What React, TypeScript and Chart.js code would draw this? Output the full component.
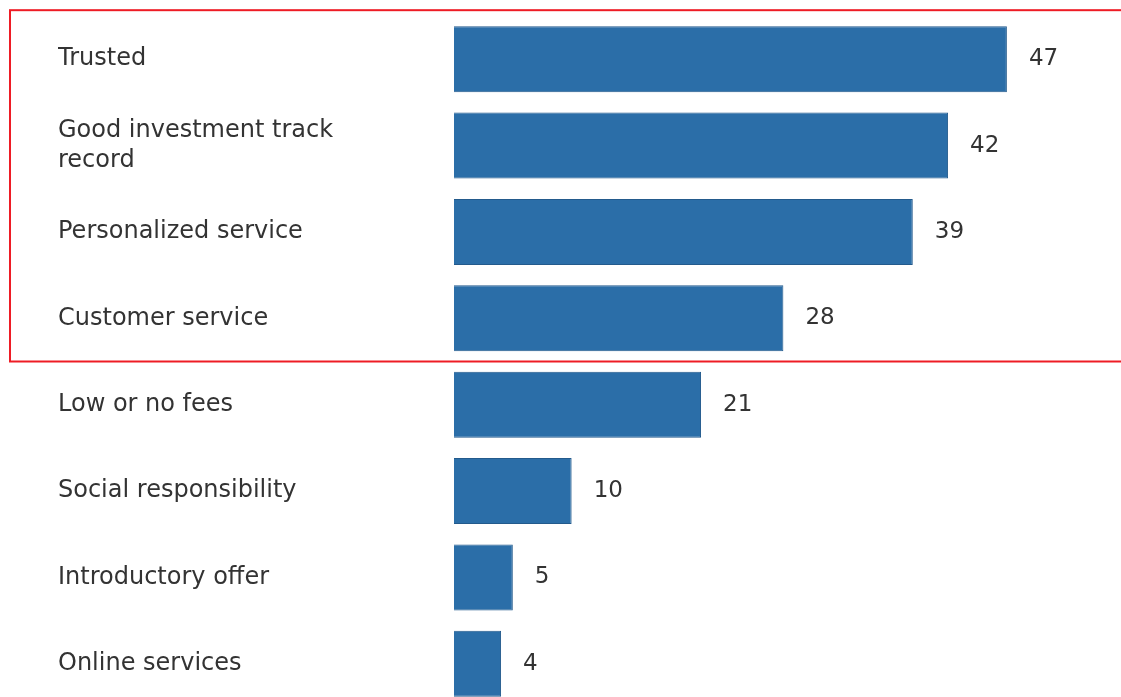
import React, { useEffect, useRef } from "react";
import { Chart, registerables } from "chart.js";

Chart.register(...registerables);

const categories: (string | string[])[] = [
  "Trusted",
  ["Good investment track", "record"],
  "Personalized service",
  "Customer service",
  "Low or no fees",
  "Social responsibility",
  "Introductory offer",
  "Online services",
];
const values: number[] = [47, 42, 39, 28, 21, 10, 5, 4];

const FONT = "'DejaVu Sans', sans-serif";
const TEXT = "#333333";

const valueLabels = {
  id: "valueLabels",
  afterDatasetsDraw(chart: any) {
    const ctx = chart.ctx;
    const meta = chart.getDatasetMeta(0);
    ctx.save();
    ctx.font = `23px ${FONT}`;
    ctx.fillStyle = TEXT;
    ctx.textAlign = "left";
    ctx.textBaseline = "middle";
    meta.data.forEach((bar: any, i: number) => {
      ctx.fillText(String(values[i]), bar.x + 22, bar.y);
    });
    ctx.restore();
  },
};

const highlightBox = {
  id: "highlightBox",
  afterDraw(chart: any) {
    const y = chart.scales.y;
    const top = y.getPixelForValue(0) - 49;
    const bottom = (y.getPixelForValue(3) + y.getPixelForValue(4)) / 2;
    const ctx = chart.ctx;
    ctx.save();
    ctx.strokeStyle = "#ee1c25";
    ctx.lineWidth = 2;
    ctx.strokeRect(10, top, chart.width + 20, bottom - top);
    ctx.restore();
  },
};

export default function App() {
  const ref = useRef<HTMLCanvasElement>(null);
  useEffect(() => {
    document.body.style.margin = "0";
    document.body.style.overflow = "hidden";
    const chart = new Chart(ref.current!, {
      type: "bar",
      data: {
        labels: categories,
        datasets: [
          {
            data: values,
            backgroundColor: "#2b6ea8",
            borderColor: "#235a8c",
            borderWidth: 1,
            barPercentage: 0.765,
            categoryPercentage: 1,
          },
        ],
      },
      options: {
        indexAxis: "y",
        animation: false,
        responsive: false,
        maintainAspectRatio: false,
        layout: { padding: { left: 58, right: 20, top: 16, bottom: 8 } },
        plugins: { legend: { display: false }, tooltip: { enabled: false } },
        scales: {
          x: { display: false, min: 0, max: 55 },
          y: {
            grid: { display: false, drawTicks: false },
            border: { display: false },
            ticks: {
              crossAlign: "far",
              padding: 0,
              color: TEXT,
              font: { family: FONT, size: 24, lineHeight: 1.25 },
            },
            afterFit(scale: any) {
              scale.width = 396;
            },
          },
        },
      },
      plugins: [valueLabels, highlightBox],
    });
    return () => chart.destroy();
  }, []);
  return (
    <div style={{ width: 1121, height: 697, overflow: "hidden", background: "#fff" }}>
      <canvas ref={ref} width={1121} height={722} style={{ display: "block" }} />
    </div>
  );
}
